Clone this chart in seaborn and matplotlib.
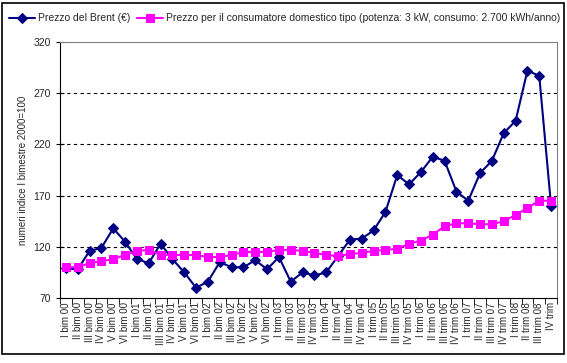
import numpy as np
import pandas as pd
import matplotlib
matplotlib.use("Agg")
import matplotlib.pyplot as plt
import seaborn as sns

# Category labels (bimesters 2000-2002, quarters 2003-2008)
periods = (
    [f"{r} bim {y}" for y in ["00", "01", "02"] for r in ["I", "II", "III", "IV", "V", "VI"]]
    + [f"{r} trim {y}" for y in ["03", "04", "05", "06", "07", "08"] for r in ["I", "II", "III", "IV"]]
)
periods[8] = "IIII bim 01"
periods[-1] = "IV trim"

brent = [99, 98, 116, 119, 138, 125, 108, 104, 123, 108, 95, 80, 86, 105, 100, 100,
         107, 98, 110, 86, 95, 92, 95, 111, 127, 128, 136, 154, 190, 181, 193, 208,
         204, 174, 165, 192, 204, 231, 243, 292, 287, 160]
consumer = [100, 100, 104, 106, 108, 112, 116, 117, 112, 112, 112, 112, 110, 110, 112, 115,
            115, 115, 117, 117, 116, 114, 112, 111, 113, 114, 116, 117, 118, 123, 126, 132,
            140, 143, 143, 142, 142, 145, 151, 158, 165, 165]

label_brent = "Prezzo del Brent (€)"
label_cons = "Prezzo per il consumatore domestico tipo (potenza: 3 kW, consumo: 2.700 kWh/anno)"

df = pd.DataFrame({"x": np.arange(len(periods)), "brent": brent, "consumer": consumer})

sns.set_style("white")
plt.rcParams["font.family"] = ["Liberation Sans", "DejaVu Sans"]

fig = plt.figure(figsize=(5.67, 3.63), dpi=100)
ax = fig.add_axes([60 / 567, 65 / 363, 497 / 567, 256 / 363])

sns.lineplot(data=df, x="x", y="brent", ax=ax, color="#000080", marker="D",
             markersize=5, linewidth=1.5, markeredgecolor="#000080", label=label_brent)
sns.lineplot(data=df, x="x", y="consumer", ax=ax, color="#FF00FF", marker="s",
             markersize=5.5, linewidth=1.5, markeredgecolor="#FF00FF", label=label_cons)

ax.set_xlim(-0.5, len(periods) - 0.5)
ax.set_ylim(70, 320)
ax.set_yticks([70, 120, 170, 220, 270, 320])
ax.set_xticks(np.arange(len(periods)))
ax.set_xticklabels(periods, rotation=90, fontsize=7)
ax.set_xticks(np.arange(len(periods) + 1) - 0.5, minor=True)
ax.tick_params(axis="x", which="major", length=0, pad=3)
ax.tick_params(axis="x", which="minor", length=4, direction="out", color="black", bottom=True)
ax.tick_params(axis="y", length=6, direction="inout", color="black", labelsize=7.5, left=True)

for v in [120, 170, 220, 270]:
    ax.axhline(v, color="black", linestyle=(0, (3, 3)), linewidth=0.8, zorder=0)

ax.set_xlabel("")
ax.set_ylabel("numeri indice I bimestre 2000=100", fontsize=7)
ax.spines["left"].set_color("black")
ax.spines["bottom"].set_color("black")
ax.spines["top"].set_color("#808080")
ax.spines["right"].set_color("#808080")

leg = ax.legend(loc="upper center", bbox_to_anchor=(0.5 * (0.02 + 0.985), 0.975),
                bbox_transform=fig.transFigure, ncol=2, frameon=False, fontsize=7.5,
                handlelength=2.5, columnspacing=0.6, handletextpad=0.3, borderaxespad=0)

fig.patches.append(plt.Rectangle((2 / 567, 9 / 363), 562 / 567, 351 / 363,
                                 transform=fig.transFigure, fill=False,
                                 edgecolor="black", linewidth=1.2))

fig.savefig("out.png", dpi=100)
